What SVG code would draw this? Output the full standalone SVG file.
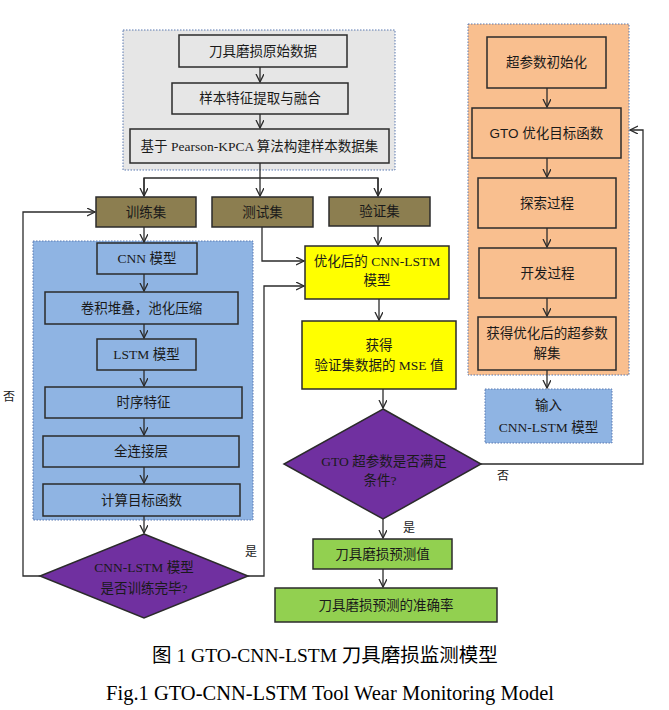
<svg xmlns="http://www.w3.org/2000/svg" width="669" height="710" viewBox="0 0 669 710">
<style>
text{font-family:"Liberation Serif","Noto Sans CJK SC",serif;font-size:13.5px;fill:#1a1a1a;text-anchor:middle;dominant-baseline:central}
.box{stroke:#2b2b2b;stroke-width:1.5}
.gray{fill:#e6e6e6}
.olive{fill:#8c7e50}
.blue{fill:#8fb4e3}
.yellow{fill:#ffff00}
.purple{fill:#7030a0}
.green{fill:#92d050}
.orange{fill:#f9bf8f}
.cont{stroke:#5a78b0;stroke-width:1;stroke-dasharray:1.5 1.5}
.conn{fill:none;stroke:#2b2b2b;stroke-width:1.3}
.cap{font-size:19.5px;fill:#000}
.capen{font-size:20.5px;fill:#000}
.lbl{font-size:12px}
</style>
<defs>
<marker id="ah" markerWidth="10" markerHeight="10" refX="8" refY="4" orient="auto" markerUnits="userSpaceOnUse">
<path d="M0,0 L8,4 L0,8" fill="none" stroke="#2b2b2b" stroke-width="1.3"/>
</marker>
</defs>
<rect width="669" height="710" fill="#fff"/>

<!-- containers -->
<rect id="container-data" x="123" y="30" width="272" height="140" class="gray cont"/>
<rect id="container-cnn" x="33" y="241" width="220" height="279" class="blue cont"/>
<rect id="container-gto" x="468" y="24" width="161" height="351" class="orange cont"/>

<g id="connectors" class="conn">
<line x1="260" y1="67" x2="260" y2="82" marker-end="url(#ah)"/>
<line x1="260" y1="114" x2="260" y2="128" marker-end="url(#ah)"/>
<line x1="260" y1="163" x2="260" y2="196" marker-end="url(#ah)"/>
<polyline points="144,196 144,178 378,178 378,196"/>
<line x1="144" y1="178" x2="144" y2="196" marker-end="url(#ah)"/>
<line x1="378" y1="178" x2="378" y2="196" marker-end="url(#ah)"/>
<line x1="144" y1="227" x2="144" y2="242" marker-end="url(#ah)"/>
<line x1="144" y1="274" x2="144" y2="291" marker-end="url(#ah)"/>
<line x1="144" y1="324" x2="144" y2="338" marker-end="url(#ah)"/>
<line x1="144" y1="370" x2="144" y2="386" marker-end="url(#ah)"/>
<line x1="144" y1="418" x2="144" y2="435" marker-end="url(#ah)"/>
<line x1="144" y1="467" x2="144" y2="483" marker-end="url(#ah)"/>
<line x1="144" y1="516" x2="144" y2="533" marker-end="url(#ah)"/>
<polyline points="40,576 23,576 23,212 95,212" marker-end="url(#ah)"/>
<polyline points="248,576 264,576 264,286 304,286" marker-end="url(#ah)"/>
<polyline points="262,227 262,261 304,261" marker-end="url(#ah)"/>
<line x1="378" y1="226" x2="378" y2="245" marker-end="url(#ah)"/>
<line x1="379" y1="299" x2="379" y2="320" marker-end="url(#ah)"/>
<line x1="383" y1="389" x2="383" y2="408" marker-end="url(#ah)"/>
<line x1="383" y1="519" x2="383" y2="538" marker-end="url(#ah)"/>
<line x1="383" y1="569" x2="383" y2="587" marker-end="url(#ah)"/>
<polyline points="481,464 643,464 643,130 630,130" marker-end="url(#ah)"/>
<line x1="547" y1="88" x2="547" y2="107" marker-end="url(#ah)"/>
<line x1="547" y1="158" x2="547" y2="177" marker-end="url(#ah)"/>
<line x1="547" y1="228" x2="547" y2="247" marker-end="url(#ah)"/>
<line x1="547" y1="298" x2="547" y2="316" marker-end="url(#ah)"/>
<line x1="547" y1="370" x2="547" y2="388" marker-end="url(#ah)"/>
</g>

<g id="edge-labels">
<text x="9" y="397" class="lbl">否</text>
<text x="251" y="552" class="lbl">是</text>
<text x="503" y="476" class="lbl">否</text>
<text x="409" y="528" class="lbl">是</text>
</g>

<g id="n-raw"><rect x="179" y="35" width="168" height="32" class="box gray"/><text x="263" y="51">刀具磨损原始数据</text></g>
<g id="n-feature"><rect x="172" y="83" width="176" height="31" class="box gray"/><text x="260" y="98.5">样本特征提取与融合</text></g>
<g id="n-dataset"><rect x="130" y="129" width="259" height="34" class="box gray"/><text x="259.5" y="146">基于 Pearson-KPCA 算法构建样本数据集</text></g>

<g id="n-train"><rect x="96" y="197" width="100" height="30" class="box olive"/><text x="146" y="212">训练集</text></g>
<g id="n-test"><rect x="212" y="197" width="101" height="30" class="box olive"/><text x="262.5" y="212">测试集</text></g>
<g id="n-valid"><rect x="329" y="197" width="101" height="29" class="box olive"/><text x="379.5" y="211.5">验证集</text></g>

<g id="n-cnn"><rect x="97" y="243" width="100" height="31" class="box blue"/><text x="147" y="258.5">CNN  模型</text></g>
<g id="n-conv"><rect x="45" y="292" width="193" height="32" class="box blue"/><text x="141.5" y="308">卷积堆叠，池化压缩</text></g>
<g id="n-lstm"><rect x="97" y="339" width="99" height="31" class="box blue"/><text x="146.5" y="354.5">LSTM 模型</text></g>
<g id="n-seq"><rect x="45" y="387" width="197" height="31" class="box blue"/><text x="143.5" y="402.5">时序特征</text></g>
<g id="n-fc"><rect x="43" y="436" width="196" height="31" class="box blue"/><text x="141" y="451.5">全连接层</text></g>
<g id="n-obj"><rect x="43" y="484" width="197" height="32" class="box blue"/><text x="141.5" y="500">计算目标函数</text></g>

<g id="n-trained"><polygon points="144,534 248,576 144,618 40,576" class="box purple"/><text x="144" y="567">CNN-LSTM  模型</text><text x="144" y="588">是否训练完毕?</text></g>

<g id="n-optmodel"><rect x="305" y="246" width="144" height="53" class="box yellow"/><text x="377" y="261">优化后的 CNN-LSTM</text><text x="377" y="280">模型</text></g>
<g id="n-mse"><rect x="302" y="321" width="154" height="68" class="box yellow"/><text x="379" y="345">获得</text><text x="379" y="365">验证集数据的 MSE 值</text></g>

<g id="n-cond"><polygon points="383,409 481,464 383,519 284,464" class="box purple"/><text x="384" y="461">GTO  超参数是否满足</text><text x="380" y="480">条件?</text></g>

<g id="n-pred"><rect x="313" y="539" width="139" height="30" class="box green"/><text x="382.5" y="554">刀具磨损预测值</text></g>
<g id="n-acc"><rect x="275" y="588" width="222" height="34" class="box green"/><text x="386" y="605">刀具磨损预测的准确率</text></g>

<g id="n-init"><rect x="487" y="37" width="119" height="51" class="box orange"/><text x="546.5" y="62.5">超参数初始化</text></g>
<g id="n-gto"><rect x="472" y="108" width="149" height="50" class="box orange"/><text x="546.5" y="133" style="font-family:'Liberation Sans','Noto Sans CJK SC',sans-serif">GTO  优化目标函数</text></g>
<g id="n-explore"><rect x="478" y="178" width="138" height="50" class="box orange"/><text x="547" y="203">探索过程</text></g>
<g id="n-exploit"><rect x="479" y="248" width="137" height="50" class="box orange"/><text x="547.5" y="273">开发过程</text></g>
<g id="n-best"><rect x="478" y="317" width="138" height="53" class="box orange"/><text x="547" y="333">获得优化后的超参数</text><text x="547" y="353">解集</text></g>
<g id="n-input"><rect x="485" y="389" width="127" height="54" class="blue cont"/><text x="548.5" y="405">输入</text><text x="548.5" y="427">CNN-LSTM  模型</text></g>

<g id="captions">
<text x="325" y="655" class="cap">图 1 GTO-CNN-LSTM 刀具磨损监测模型</text>
<text x="330" y="693" class="capen">Fig.1 GTO-CNN-LSTM Tool Wear Monitoring Model</text>
</g>
</svg>
